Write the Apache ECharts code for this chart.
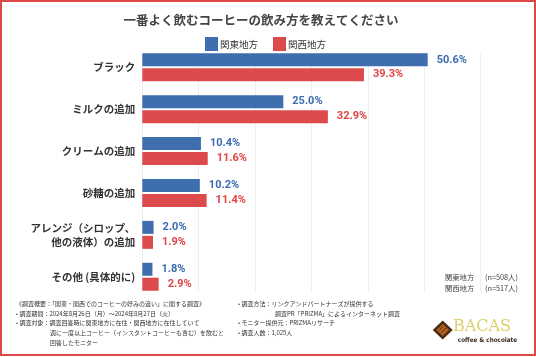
<!DOCTYPE html>
<html><head><meta charset="utf-8">
<script src="https://cdn.jsdelivr.net/npm/echarts@6/dist/echarts.min.js"></script>
<style>html,body{margin:0;padding:0;background:#fff}#c{width:536px;height:357px}</style>
</head><body><div id="c"></div>
<script>
const categories = ['ブラック','ミルクの追加','クリームの追加','砂糖の追加','アレンジ（シロップ、\n他の液体）の追加','その他 (具体的に)'];
const kanto = [50.6, 25.0, 10.4, 10.2, 2.0, 1.8];
const kansai = [39.3, 32.9, 11.6, 11.4, 1.9, 2.9];
const seriesNames = ['関東地方','関西地方'];
const xTicks = [0, 10, 20, 30, 40, 50, 60];
const sampleNotes = [['関東地方','(n=508人)'],['関西地方','(n=517人)']];
const notesLeft = ['《調査概要：「関東・関西でのコーヒーの好みの違い」に関する調査》','• 調査期間：2024年8月26日（月）～2024年8月27日（火）','• 調査対象：調査回答時に関東地方に在住・関西地方に在住していて','週に一度以上コーヒー（インスタントコーヒーも含む）を飲むと','回答したモニター'];
const notesRight = ['• 調査方法：リンクアンドパートナーズが提供する','調査PR「PRIZMA」によるインターネット調査','• モニター提供元：PRIZMAリサーチ','• 調査人数：1,025人'];

const JP = '"Noto Sans CJK JP", "Noto Sans", sans-serif';
const BLUE = '#3f6eaf', RED = '#dc4a4b';
const chart = echarts.init(document.getElementById('c'), null, {renderer:'canvas'});

const gfx = [];
gfx.push({type:'rect', shape:{x:1,y:1,width:534,height:354}, style:{fill:null, stroke:'#e04848', lineWidth:2}, z:10});
gfx.push({type:'text', x:261, y:20, style:{text:'一番よく飲むコーヒーの飲み方を教えてください', fill:'#444', font:'bold 12.5px '+JP, textAlign:'center', textVerticalAlign:'middle'}});
sampleNotes.forEach((r,i)=>{
  gfx.push({type:'text', x:445, y:277.5+i*11, style:{text:r[0], fill:'#444', font:'7.3px '+JP, textVerticalAlign:'middle'}});
  gfx.push({type:'text', x:485, y:277.5+i*11, style:{text:r[1], fill:'#444', font:'7.3px '+JP, textVerticalAlign:'middle'}});
});
const lx = [16,16,16,50,50];
notesLeft.forEach((t,i)=>{
  gfx.push({type:'text', x:lx[i], y:304+i*9.6, style:{text:t, fill:'#333', font:'6px '+JP, textVerticalAlign:'middle'}});
});
const rx = [238,275,238,238];
notesRight.forEach((t,i)=>{
  gfx.push({type:'text', x:rx[i], y:304+i*9.6, style:{text:t, fill:'#333', font:'6px '+JP, textVerticalAlign:'middle'}});
});
// logo
gfx.push({type:'polygon', shape:{points:[[442.7,320.5],[452.7,330],[442.7,339.5],[432.7,330]]}, style:{fill:'#4a2c12'}});
gfx.push({type:'polygon', shape:{points:[[442.7,324],[449,330],[442.7,336],[436.4,330]]}, style:{fill:'#b0611f'}});
gfx.push({type:'line', shape:{x1:439.5,y1:330,x2:443,y2:326.5}, style:{stroke:'#4a2c12', lineWidth:1}});
gfx.push({type:'line', shape:{x1:441.5,y1:332.5,x2:446,y2:328}, style:{stroke:'#4a2c12', lineWidth:1}});
gfx.push({type:'text', x:453, y:326.5, style:{text:'BACAS', fill:'#dcd16c', font:'16px "DejaVu Serif", "Liberation Serif", serif', textVerticalAlign:'middle'}});
gfx.push({type:'text', x:487.5, y:340, style:{text:'coffee & chocolate', fill:'#3a2818', font:'bold 6.3px "Liberation Sans Narrow", "DejaVu Sans Condensed", sans-serif', textAlign:'center', textVerticalAlign:'middle'}});

const catData = categories.map(c => c.indexOf('\n')>=0 ? {value:c, textStyle:{lineHeight:14, padding:[0,0,18,0]}} : c);

chart.setOption({
  animation:false,
  textStyle:{fontFamily:JP},
  legend:{data:seriesNames, left:200, top:32, itemWidth:13, itemHeight:14, itemGap:15, icon:'rect',
    textStyle:{fontSize:9.5, color:'#333', fontFamily:JP, padding:[0,0,0,-3]}},
  grid:[
    {left:142.3, right:55.3, top:46.3, height:251.4, containLabel:false},
    {left:142.3, right:55.3, top:54, height:237.7, containLabel:false}
  ],
  xAxis:[
    {type:'value', gridIndex:0, min:xTicks[0], max:xTicks[xTicks.length-1], interval:10, show:false},
    {type:'value', gridIndex:1, min:xTicks[0], max:xTicks[xTicks.length-1], interval:10,
      axisLabel:{show:false}, axisLine:{show:false}, axisTick:{show:false},
      splitLine:{show:true, lineStyle:{color:'#eeeeee', width:1}}}
  ],
  yAxis:[
    {type:'category', gridIndex:0, data:catData, inverse:true,
      axisLine:{show:false}, axisTick:{show:false},
      axisLabel:{fontSize:10.5, fontWeight:'bold', color:'#333', margin:7, fontFamily:JP, lineHeight:14}},
    {type:'value', gridIndex:1, show:false, min:0, max:1}
  ],
  series:[
    {name:seriesNames[0], type:'bar', data:kanto, barWidth:13, barGap:'15%', itemStyle:{color:BLUE},
      label:{show:true, position:'right', distance:9, color:'#3a6cb0', fontSize:11, fontWeight:'bold', fontFamily:'Roboto, sans-serif', formatter:p=>p.value.toFixed(1)+'%'}},
    {name:seriesNames[1], type:'bar', data:kansai, barWidth:13, barGap:'15%', itemStyle:{color:RED},
      label:{show:true, position:'right', distance:9, color:'#e04343', fontSize:11, fontWeight:'bold', fontFamily:'Roboto, sans-serif', formatter:p=>p.value.toFixed(1)+'%'}},
    {type:'scatter', xAxisIndex:1, yAxisIndex:1, data:[], silent:true}
  ],
  graphic:gfx
});
</script></body></html>
